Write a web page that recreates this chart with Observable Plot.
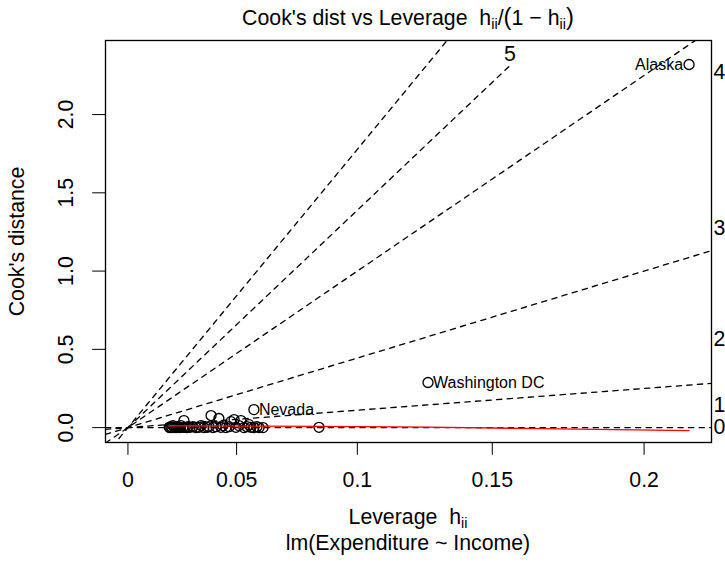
<!DOCTYPE html>
<html>
<head>
<meta charset="utf-8">
<script src="https://cdn.jsdelivr.net/npm/d3@7"></script>
<script src="https://cdn.jsdelivr.net/npm/@observablehq/plot@0.6"></script>
<style>
  body { margin: 0; background: #fff; color: #000; font-family: "Liberation Sans", Arial, sans-serif; }
  #wrap { position: relative; width: 725px; height: 568px; overflow: hidden; background: #fff; }
  .cap { position: absolute; left: 105px; width: 606px; text-align: center; font-size: 21.3px; line-height: 26px; white-space: nowrap; }
  .cap sub { font-size: 0.68em; line-height: 0; vertical-align: -0.3em; }
  .paren { font-size: 1.12em; }
  #chart { position: absolute; left: 0; top: 36px; }
</style>
</head>
<body>
<div id="wrap">
  <div class="cap" style="top:4px">Cook's dist vs Leverage&nbsp;&nbsp;h<sub>ii</sub>/<span class="paren">(</span>1 − h<sub>ii</sub><span class="paren">)</span></div>
  <div id="chart"></div>
  <div class="cap" style="top:504px">Leverage&nbsp;&nbsp;h<sub>ii</sub></div>
  <div class="cap" style="top:530px">lm(Expenditure ~ Income)</div>
</div>
<script>
// Hat values and Cook's distances of lm(Expenditure ~ Income), one per state (51 rows)
const leverage = [
  0.0196, 0.0199, 0.0204, 0.0209, 0.0213, 0.0218, 0.0223, 0.0227, 0.0232, 0.0237,
  0.0241, 0.0246, 0.0250, 0.0260, 0.0264, 0.0269, 0.0278, 0.0283, 0.0292, 0.0305,
  0.0319, 0.0333, 0.0342, 0.0355, 0.0369, 0.0378, 0.0387, 0.0396, 0.0409, 0.0422,
  0.0431, 0.0440, 0.0453, 0.0467, 0.0475, 0.0489, 0.0497, 0.0510, 0.0519, 0.0532,
  0.0545, 0.0554, 0.0562, 0.0575, 0.0588, 0.0597, 0.0614,
  0.0575, 0.0847, 0.1269, 0.2137
];
const cooksDistance = [
  0.002, 0.000, 0.006, 0.000, 0.013, 0.002, 0.000, 0.006, 0.000, 0.006,
  0.002, 0.000, 0.013, 0.002, 0.045, 0.002, 0.000, 0.006, 0.002, 0.006,
  0.000, 0.002, 0.013, 0.000, 0.002, 0.006, 0.077, 0.000, 0.006, 0.058,
  0.002, 0.013, 0.000, 0.006, 0.038, 0.051, 0.002, 0.013, 0.045, 0.000,
  0.006, 0.019, 0.002, 0.000, 0.006, 0.000, 0.000,
  0.115, 0.002, 0.288, 2.320
];
// Points identified by name
const idIndex = [50, 49, 47];
const idNames = ["Alaska", "Washington DC", "Nevada"];

// Lowess smooth of Cook's distance against leverage
const smoothLeverage = [0.0196, 0.0385, 0.0566, 0.0847, 0.1269, 0.1667, 0.2137];
const smoothCook = [0.012, 0.011, 0.010, 0.008, 0.003, -0.007, -0.019];

// Axis ticks
const hTicks = [0, 0.05, 0.1, 0.15, 0.2];
const hTickLabels = ["0", "0.05", "0.1", "0.15", "0.2"];
const cookTicks = [0, 0.5, 1, 1.5, 2];
const cookTickLabels = ["0.0", "0.5", "1.0", "1.5", "2.0"];

// Contour levels of sqrt(p * D / g) and number of coefficients
const contourLevels = [0, 1, 2, 3, 4, 5];
const nCoef = 2;

// ---- derived ----
const ratio = h => h / (1 - h);
const points = leverage.map((h, i) => ({g: ratio(h), cook: cooksDistance[i]}));
const smooth = smoothLeverage.map((h, i) => ({g: ratio(h), cook: smoothCook[i]}));
const ids = idIndex.map((k, j) => ({...points[k], name: idNames[j]}));

const [gMin, gMax] = d3.extent(points, d => d.g);
const xDomain = [-0.04 * gMax, 1.04 * gMax];
const ymx = d3.max(cooksDistance) * 1.025;
const yDomain = [-0.04 * ymx, 1.04 * ymx];
const xmax = xDomain[1], ymax = yDomain[1];
const gMid = (gMin + gMax) / 2;

const strH = 0.107;  // one text height, in Cook's distance units
const strW = 0.0029; // one space width, in leverage-ratio units

const contourLines = [];
const sideLabels = [];
const topLabels = [];
for (const b of contourLevels) {
  const b2 = b * b;
  if (nCoef * ymax > b2 * xmax) {
    const xi = xmax + strW / 3;
    contourLines.push({level: b, g: xDomain[0], cook: b2 * xDomain[0]});
    contourLines.push({level: b, g: xDomain[1], cook: b2 * xDomain[1]});
    sideLabels.push({level: b, g: xi, cook: b2 * xi / nCoef});
  } else {
    const yi = ymax - 1.5 * strH;
    const xi = nCoef * yi / b2;
    contourLines.push({level: b, g: 0, cook: 0});
    contourLines.push({level: b, g: xi, cook: yi});
    topLabels.push({level: b, g: xi, cook: ymax - 0.8 * strH});
  }
}

const gTicks = hTicks.map(ratio);
const xLabelFor = new Map(gTicks.map((g, i) => [g, hTickLabels[i]]));
const yLabelFor = new Map(cookTicks.map((c, i) => [c, cookTickLabels[i]]));

const font = "21.3px";
const lw = 1.33;

const chart = Plot.plot({
  width: 725,
  height: 462,
  marginTop: 4,
  marginBottom: 56,
  marginLeft: 105,
  marginRight: 14,
  style: {fontFamily: "'Liberation Sans', Arial, sans-serif", fontSize: font, background: "white", color: "black", overflow: "visible"},
  x: {domain: xDomain, ticks: gTicks, tickFormat: g => xLabelFor.get(g), tickSize: 12.8, tickPadding: 17, label: null},
  y: {domain: yDomain, ticks: cookTicks, tickFormat: c => yLabelFor.get(c), tickSize: 12.8, tickPadding: 20, tickRotate: -90, label: null},
  marks: [
    Plot.line(contourLines, {x: "g", y: "cook", z: "level", stroke: "black", strokeWidth: lw, strokeDasharray: "5.3,5.3", clip: true}),
    Plot.text(sideLabels, {x: "g", y: "cook", text: d => String(d.level), textAnchor: "start", fontSize: font}),
    Plot.text(topLabels, {x: "g", y: "cook", text: d => String(d.level), textAnchor: "middle", fontSize: font}),
    Plot.dot(points, {x: "g", y: "cook", r: 5, stroke: "black", strokeWidth: lw, fill: "none"}),
    Plot.line(smooth, {x: "g", y: "cook", stroke: "red", strokeWidth: lw}),
    // names of points right of the middle of the data range go to their left, the others to their right
    Plot.text(ids.filter(d => d.g > gMid), {x: "g", y: "cook", text: "name", fontSize: "16px", textAnchor: "end", dx: -6}),
    Plot.text(ids.filter(d => d.g <= gMid), {x: "g", y: "cook", text: "name", fontSize: "16px", textAnchor: "start", dx: 5}),
    Plot.text(["Cook's distance"], {frameAnchor: "left", rotate: -90, textAnchor: "middle", dx: -88, fontSize: font}),
    Plot.frame({stroke: "black", strokeWidth: lw})
  ]
});

document.getElementById("chart").appendChild(chart);
</script>
</body>
</html>
